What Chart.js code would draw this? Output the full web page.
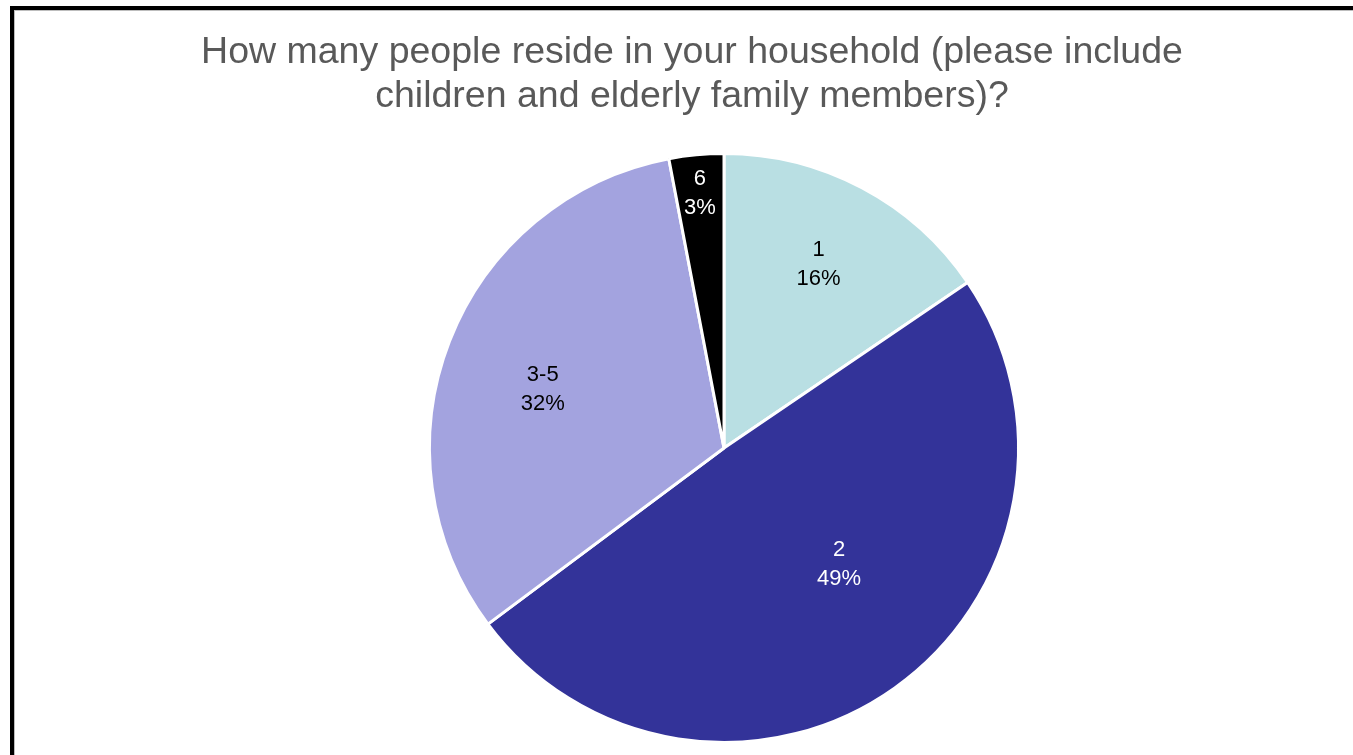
<!DOCTYPE html>
<html>
<head>
<meta charset="utf-8">
<script src="https://cdn.jsdelivr.net/npm/chart.js@4.4.1/dist/chart.umd.min.js"></script>
<style>
  html, body { margin: 0; padding: 0; background: #fff; overflow: hidden; }
  #frame { position: absolute; left: 10px; top: 6px; width: 2000px; height: 2000px; border: 4px solid #000; box-shadow: inset 1px 1px 0 #bdbdbd; }
  #chart-pie { position: absolute; left: 0; top: 0; }
</style>
</head>
<body>
<div id="frame"></div>
<canvas id="chart-pie" width="1353" height="755"></canvas>
<script>
const titleLines = ['How many people reside in your household (please include', 'children and elderly family members)?'];
const categories = ['1', '2', '3-5', '6'];
const shares = [15.5, 49.3, 32.2, 3.0];
const sliceColors = ['#B9DFE3', '#333399', '#A3A3DF', '#000000'];
const labelColors = ['#000000', '#ffffff', '#000000', '#ffffff'];

// where the best-fit labels sit: fraction of the radius, and a nudge in degrees off the slice middle
const labelRadius = [0.70, 0.557, 0.647, 0.869];
const labelTurn = [-0.6, -9.1, -3.3, 0];

// the title in the original is centred a bit left of the pie
const shiftTitle = {
  id: 'shiftTitle',
  afterLayout(chart) {
    chart.titleBlock.left -= 32;
    chart.titleBlock.right -= 32;
  }
};

// category + percentage inside each slice
const sliceLabels = {
  id: 'sliceLabels',
  afterDatasetsDraw(chart) {
    const ctx = chart.ctx;
    const meta = chart.getDatasetMeta(0);
    const total = shares.reduce((a, b) => a + b, 0);
    ctx.save();
    ctx.font = '22px "Liberation Sans", Arial, sans-serif';
    ctx.textAlign = 'center';
    ctx.textBaseline = 'middle';
    meta.data.forEach((arc, i) => {
      const p = arc.getProps(['x', 'y', 'startAngle', 'endAngle', 'outerRadius'], true);
      const mid = (p.startAngle + p.endAngle) / 2 + labelTurn[i] * Math.PI / 180;
      const r = p.outerRadius * labelRadius[i];
      const x = p.x + Math.cos(mid) * r;
      const y = p.y + Math.sin(mid) * r;
      ctx.fillStyle = labelColors[i];
      ctx.fillText(categories[i], x, y - 14.5);
      ctx.fillText(Math.round(shares[i] / total * 100) + '%', x, y + 14.5);
    });
    ctx.restore();
  }
};

const chart = new Chart(document.getElementById('chart-pie').getContext('2d'), {
  type: 'pie',
  data: {
    labels: categories,
    datasets: [{
      data: shares,
      backgroundColor: sliceColors,
      borderColor: '#ffffff',
      borderWidth: 3,
      hoverOffset: 0
    }]
  },
  options: {
    responsive: false,
    animation: false,
    events: [],
    layout: {
      padding: { left: 95, right: 0, top: 0, bottom: 11 }
    },
    plugins: {
      legend: { display: false },
      tooltip: { enabled: false },
      title: {
        display: true,
        text: titleLines,
        color: '#595959',
        font: { family: '"Liberation Sans", Arial, sans-serif', size: 37.5, weight: 'normal', lineHeight: 1.173 },
        padding: { top: 31, bottom: 33 }
      }
    }
  },
  plugins: [shiftTitle, sliceLabels]
});
</script>
</body>
</html>
